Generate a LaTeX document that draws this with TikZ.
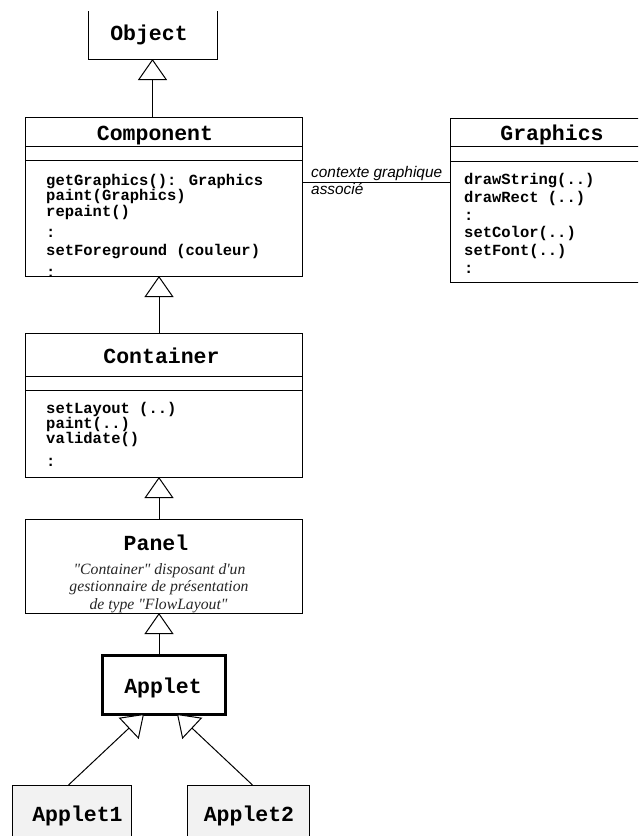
\documentclass[tikz,border=0pt]{standalone}
\usepackage{fontspec}
\usetikzlibrary{arrows.meta}
\newfontfamily\codefont{Liberation Mono}
\newfontfamily\notefont{Liberation Sans}
\newfontfamily\commentfont{Liberation Serif}

\tikzset{
  classbox/.style={draw, line width=1pt, anchor=north west, inner sep=0pt, outer sep=0pt},
  classname/.style={font=\codefont\bfseries\fontsize{21.5}{24}\selectfont, anchor=base, inner sep=0pt},
  member/.style={font=\codefont\bfseries\fontsize{15.5}{18}\selectfont, anchor=base west, inner sep=0pt},
  note/.style={font=\notefont\itshape\fontsize{15.4}{18}\selectfont, anchor=base west, inner sep=0pt},
  comment/.style={font=\commentfont\itshape\fontsize{15.7}{18}\selectfont, text=black!85, anchor=base, inner sep=0pt},
  divider/.style={line width=1pt},
  inherit/.style={line width=1pt, -{Triangle[open, length=21pt, width=29pt, fill=white]}},
}

\begin{document}
\begin{tikzpicture}[x=1pt, y=-1pt]
\useasboundingbox (0,0) rectangle (638,836);
\clip (0,0) rectangle (638,836);

% class boxes (Object is open at the top)
\node[classbox, draw=none, minimum width=129pt, minimum height=48pt] (obj) at (88,11) {};
\draw[line width=1pt] (obj.north west) -- (obj.south west) -- (obj.south east) -- (obj.north east);
\node[classbox, minimum width=277pt, minimum height=159pt] (comp)  at (25,117) {};
\node[classbox, minimum width=220pt, minimum height=164pt] (graph) at (450,118) {};
\node[classbox, minimum width=277pt, minimum height=144pt] (cont)  at (25,333) {};
\node[classbox, minimum width=277pt, minimum height=94pt]  (panel) at (25,519) {};
\node[classbox, line width=3pt, minimum width=123pt, minimum height=59pt] (applet) at (102,655) {};
\node[classbox, fill=black!5, minimum width=119pt, minimum height=80pt] (app1) at (12,785) {};
\node[classbox, fill=black!5, minimum width=122pt, minimum height=80pt] (app2) at (187.5,785) {};

% compartment dividers
\coordinate (c1) at (0,146);   \coordinate (c2) at (0,160.5);
\coordinate (g1) at (0,146);   \coordinate (g2) at (0,161);
\coordinate (k1) at (0,376);   \coordinate (k2) at (0,390);
\draw[divider] (comp.west |- c1) -- (comp.east |- c1);
\draw[divider] (comp.west |- c2) -- (comp.east |- c2);
\draw[divider] (graph.west |- g1) -- (graph.east |- g1);
\draw[divider] (graph.west |- g2) -- (graph.east |- g2);
\draw[divider] (cont.west |- k1) -- (cont.east |- k1);
\draw[divider] (cont.west |- k2) -- (cont.east |- k2);

% class names
\node[classname] (tobj)    at (149,40.5)   {Object};
\node[classname] (tcomp)   at (155,140)    {Component};
\node[classname] (tgraph)  at (552,140)    {Graphics};
\node[classname] (tcont)   at (161.5,363)  {Container};
\node[classname] (tpanel)  at (156,550.5)  {Panel};
\node[classname] (tapplet) at (163,693)    {Applet};
\node[classname] (tapp1)   at (77.5,821.5) {Applet1};
\node[classname] (tapp2)   at (249,821.5)  {Applet2};

% operations
\foreach \t/\y [count=\i] in {getGraphics(): Graphics/185, paint(Graphics)/200.5,
    repaint()/216, :/237, setForeground (couleur)/255.5, :/277}
  \node[member, name=cm\i] at (46,\y) {\t};
\foreach \t/\y [count=\i] in {drawString(..)/184, drawRect (..)/202, :/220,
    setColor(..)/237.5, setFont(..)/255, :/273}
  \node[member, name=gm\i] at (464,\y) {\t};
\foreach \t/\y [count=\i] in {setLayout (..)/413.5, paint(..)/428.5,
    validate()/443.5, :/466}
  \node[member, name=km\i] at (46,\y) {\t};

% Panel description
\node[comment] (pc1) at (159.5,574) {"Container" disposant d'un};
\node[comment] (pc2) at (159,591.5) {gestionnaire de présentation};
\node[comment] (pc3) at (158.5,609) {de type "FlowLayout"};

% association Component -- Graphics
\coordinate (assoc) at (0,182);
\draw[line width=1pt] (comp.east |- assoc) -- (graph.west |- assoc);
\node[note] (lbl1) at (311,177)   {contexte graphique};
\node[note] (lbl2) at (311,194.5) {associé};

% inheritance
\coordinate (spine) at (159,0);
\draw[inherit] (obj.south |- comp.north) -- (obj.south);
\draw[inherit] (cont.north -| spine) -- (comp.south -| spine);
\draw[inherit] (panel.north -| spine) -- (cont.south -| spine);
\draw[inherit] (applet.north -| spine) -- (panel.south -| spine);
\draw[inherit] ([xshift=-3pt]app1.north) -- ([xshift=-19.5pt]applet.south);
\draw[inherit] ([xshift=4pt]app2.north) -- ([xshift=13.5pt]applet.south);
\end{tikzpicture}
\end{document}
